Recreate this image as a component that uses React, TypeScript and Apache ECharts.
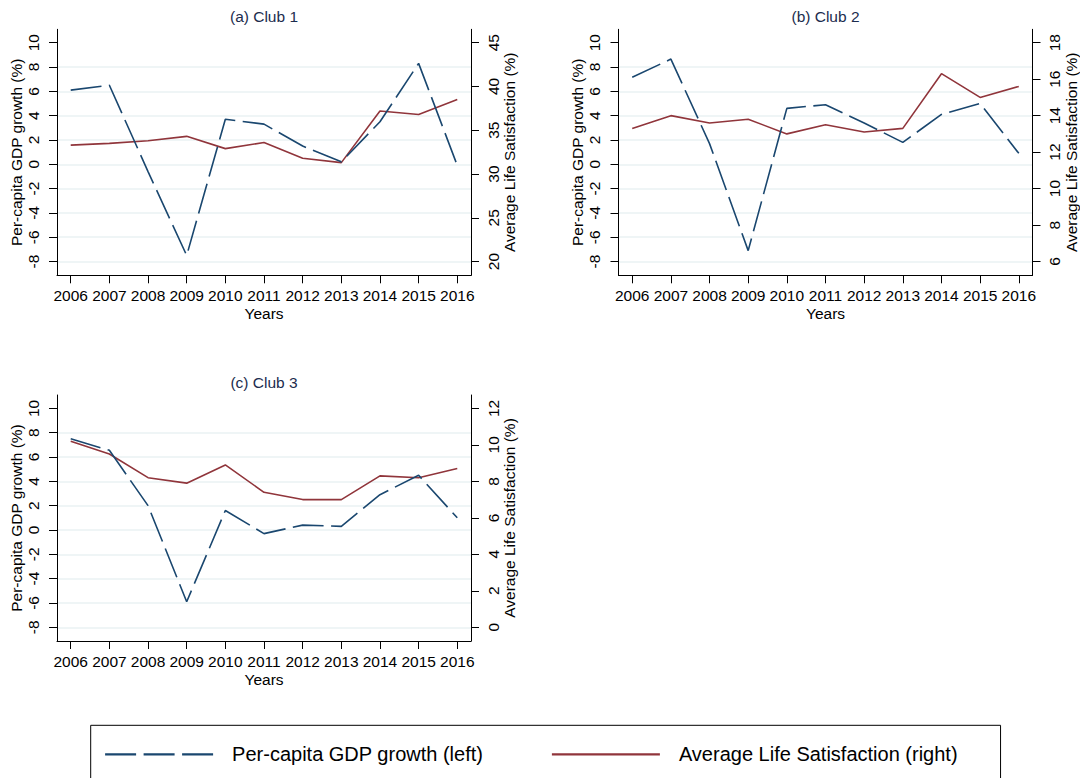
import React, { useEffect, useRef } from "react";
import * as echarts from "echarts";

// Survey years on the horizontal axis
const YEARS = [2006, 2007, 2008, 2009, 2010, 2011, 2012, 2013, 2014, 2015, 2016];

// Per-capita GDP growth (%), left axis
const GDP_CLUB1 = [6.1, 6.5, -0.6, -7.5, 3.7, 3.3, 1.5, 0.2, 3.5, 8.3, -0.1];
const GDP_CLUB2 = [7.15, 8.65, 1.7, -7.1, 4.6, 4.9, 3.4, 1.8, 4.1, 5.0, 0.9];
const GDP_CLUB3 = [7.5, 6.55, 2.0, -5.9, 1.6, -0.3, 0.4, 0.3, 2.9, 4.5, 1.0];

// Average life satisfaction (%), right axis
const LS_CLUB1 = [33.3, 33.5, 33.8, 34.3, 32.9, 33.6, 31.8, 31.3, 37.2, 36.8, 38.5];
const LS_CLUB2 = [13.3, 14.0, 13.6, 13.8, 13.0, 13.5, 13.1, 13.3, 16.3, 15.0, 15.6];
const LS_CLUB3 = [10.2, 9.5, 8.2, 7.9, 8.9, 7.4, 7.0, 7.0, 8.3, 8.2, 8.7];

// Tick labels
const LEFT_TICKS = [-8, -6, -4, -2, 0, 2, 4, 6, 8, 10];
const RIGHT_TICKS_CLUB1 = [20, 25, 30, 35, 40, 45];
const RIGHT_TICKS_CLUB2 = [6, 8, 10, 12, 14, 16, 18];
const RIGHT_TICKS_CLUB3 = [0, 2, 4, 6, 8, 10, 12];

const PANEL_TITLES = ["(a) Club 1", "(b) Club 2", "(c) Club 3"];
const GDP_NAME = "Per-capita GDP growth (left)";
const LS_NAME = "Average Life Satisfaction (right)";

const FONT = "'Liberation Sans', Arial, Helvetica, sans-serif";
const NAVY = "#1a476f";
const MAROON = "#90353b";
const GRID_COLOR = "#eaf2f3";
const TITLE_COLOR = "#1c2c4e";
const DASH = [31, 7.5];

// Frame padding beyond the outer ticks, in left-axis units
const PAD_LOW = 1.13;
const PAD_HIGH = 1.1;
const X_PAD = 0.355;

type Panel = {
  title: string;
  gdp: number[];
  ls: number[];
  rightTicks: number[];
  left: number;
  top: number;
};

const PANELS: Panel[] = [
  { title: PANEL_TITLES[0], gdp: GDP_CLUB1, ls: LS_CLUB1, rightTicks: RIGHT_TICKS_CLUB1, left: 57, top: 29.3 },
  { title: PANEL_TITLES[1], gdp: GDP_CLUB2, ls: LS_CLUB2, rightTicks: RIGHT_TICKS_CLUB2, left: 618.5, top: 29.3 },
  { title: PANEL_TITLES[2], gdp: GDP_CLUB3, ls: LS_CLUB3, rightTicks: RIGHT_TICKS_CLUB3, left: 57, top: 395 },
];

const PLOT_W = 414;
const PLOT_H = 246;

function buildOption() {
  const lMin = LEFT_TICKS[0];
  const lMax = LEFT_TICKS[LEFT_TICKS.length - 1];
  const lSpan = lMax - lMin;

  const grids: any[] = [];
  const xAxes: any[] = [];
  const yAxes: any[] = [];
  const series: any[] = [];
  const titles: any[] = [];

  const axisLine = { show: true, onZero: false, lineStyle: { color: "#000", width: 1 } };
  const tickStyle = { color: "#000", width: 1 };
  const labelText = { color: "#000", fontSize: 15.5, fontFamily: FONT };

  PANELS.forEach((p, i) => {
    grids.push({
      left: p.left,
      top: p.top,
      width: PLOT_W,
      height: PLOT_H,
      containLabel: false,
      outerBoundsMode: "none",
    });

    titles.push({
      text: p.title,
      left: p.left + PLOT_W / 2,
      top: p.top - 21,
      textAlign: "center",
      padding: 0,
      textStyle: { color: TITLE_COLOR, fontSize: 15.5, fontWeight: "normal", fontFamily: FONT },
    });

    xAxes.push({
      type: "value",
      gridIndex: i,
      min: YEARS[0] - X_PAD,
      max: YEARS[YEARS.length - 1] + X_PAD,
      axisLine,
      axisTick: { show: true, length: 8, customValues: YEARS, lineStyle: tickStyle },
      axisLabel: {
        customValues: YEARS,
        margin: 12,
        formatter: (v: number) => String(v),
        ...labelText,
      },
      splitLine: { show: false },
      name: "Years",
      nameLocation: "middle",
      nameGap: 30,
      nameTextStyle: { ...labelText },
    });

    // left axis: GDP growth
    const rMin = p.rightTicks[0];
    const rMax = p.rightTicks[p.rightTicks.length - 1];
    const ratio = (rMax - rMin) / lSpan;

    // light gridlines at every left tick except the top one
    const gridColors = LEFT_TICKS.map((t) => (t === lMax ? "rgba(0,0,0,0)" : GRID_COLOR));

    yAxes.push({
      type: "value",
      gridIndex: i,
      position: "left",
      min: lMin - PAD_LOW,
      max: lMax + PAD_HIGH,
      axisLine,
      axisTick: { show: true, length: 8, customValues: LEFT_TICKS, lineStyle: tickStyle },
      axisLabel: { customValues: LEFT_TICKS, rotate: 90, margin: 16, ...labelText },
      splitLine: { show: true, lineStyle: { color: gridColors, width: 1.6 } },
      name: "Per-capita GDP growth (%)",
      nameLocation: "middle",
      nameRotate: 90,
      nameGap: 32,
      nameTextStyle: { ...labelText },
    });

    // right axis: life satisfaction, ticks aligned with the left axis
    yAxes.push({
      type: "value",
      gridIndex: i,
      position: "right",
      min: rMin - PAD_LOW * ratio,
      max: rMax + PAD_HIGH * ratio,
      axisLine,
      axisTick: { show: true, length: 8, customValues: p.rightTicks, lineStyle: tickStyle },
      axisLabel: { customValues: p.rightTicks, rotate: 90, margin: 14, ...labelText },
      splitLine: { show: false },
      name: "Average Life Satisfaction (%)",
      nameLocation: "middle",
      nameRotate: 90,
      nameGap: 30,
      nameTextStyle: { ...labelText },
    });

    series.push({
      type: "line",
      name: GDP_NAME,
      xAxisIndex: i,
      yAxisIndex: i * 2,
      data: YEARS.map((y, k) => [y, p.gdp[k]]),
      symbol: "none",
      z: 3,
      lineStyle: { color: NAVY, width: 1.6, type: DASH },
      itemStyle: { color: NAVY },
    });
    series.push({
      type: "line",
      name: LS_NAME,
      xAxisIndex: i,
      yAxisIndex: i * 2 + 1,
      data: YEARS.map((y, k) => [y, p.ls[k]]),
      symbol: "none",
      z: 2,
      lineStyle: { color: MAROON, width: 1.6, type: "solid" },
      itemStyle: { color: MAROON },
    });
  });

  return {
    animation: false,
    backgroundColor: "#ffffff",
    title: titles,
    grid: grids,
    xAxis: xAxes,
    yAxis: yAxes,
    series,
    legend: {
      data: [GDP_NAME, LS_NAME],
      selectedMode: false,
      orient: "horizontal",
      left: 90.7,
      top: 725.3,
      padding: [19, 43, 40, 13.3],
      itemWidth: 108,
      itemHeight: 14,
      itemGap: 67.5,
      itemStyle: { opacity: 0, borderWidth: 0 },
      lineStyle: { width: 2.2 },
      borderColor: "#000",
      borderWidth: 1,
      textStyle: { color: "#000", fontSize: 20, fontFamily: FONT, padding: [0, 0, 0, 14] },
    },
  };
}

export default function App() {
  const ref = useRef<HTMLDivElement>(null);

  useEffect(() => {
    if (!ref.current) return;
    const chart = echarts.init(ref.current, null, { renderer: "svg" });
    chart.setOption(buildOption() as any);
    return () => {
      chart.dispose();
    };
  }, []);

  return (
    <div
      ref={ref}
      style={{ position: "fixed", left: 0, top: 0, width: 1080, height: 778, background: "#fff" }}
    />
  );
}
